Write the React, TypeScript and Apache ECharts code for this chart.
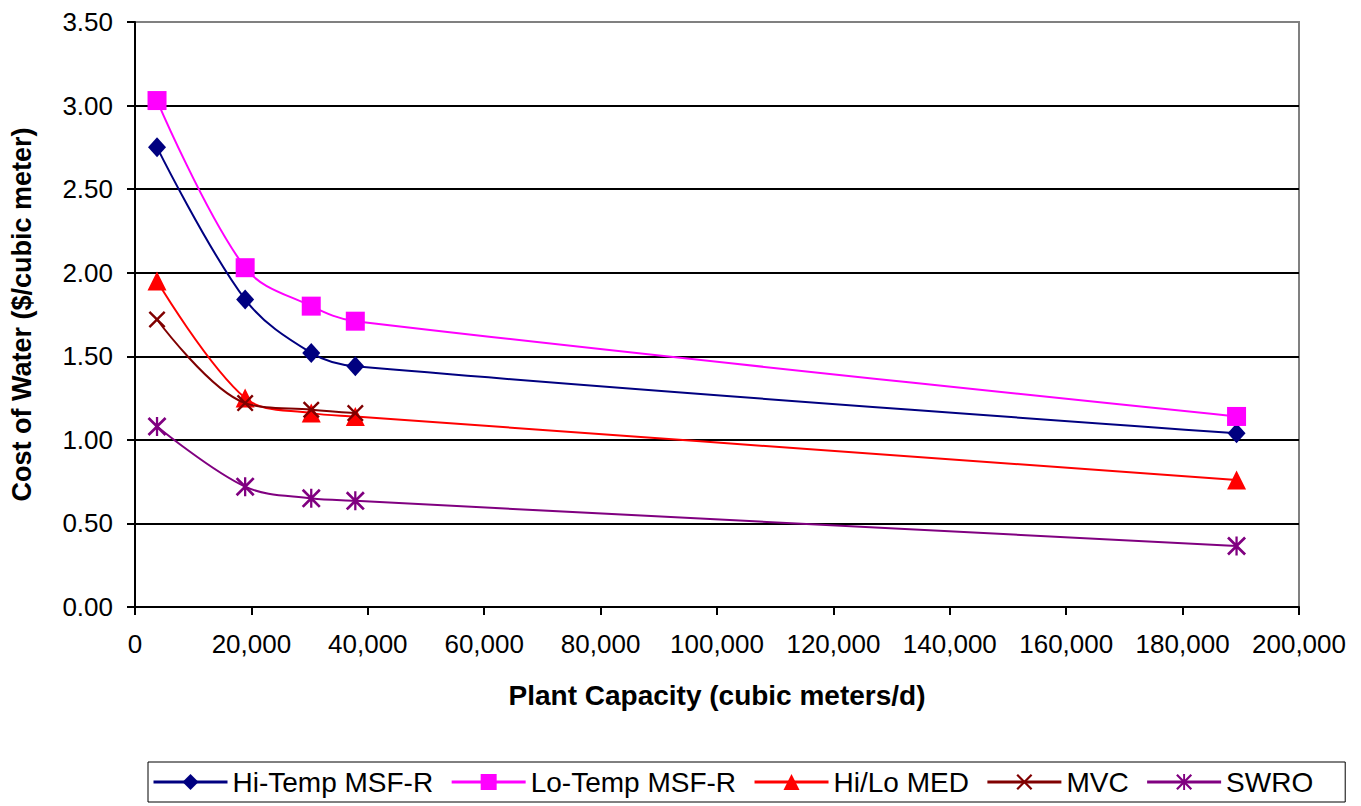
import React, { useEffect, useRef } from "react";
import * as echarts from "echarts";

const capacities = [3785, 18927, 30283, 37854, 189271];
const hiTempMSFR = [2.75, 1.84, 1.52, 1.44, 1.04];
const loTempMSFR = [3.03, 2.03, 1.8, 1.71, 1.14];
const hiLoMED = [1.95, 1.25, 1.16, 1.14, 0.76];
const mvc = [1.72, 1.22, 1.18, 1.16];
const swro = [1.08, 0.72, 0.65, 0.635, 0.365];

const seriesNames = ["Hi-Temp MSF-R", "Lo-Temp MSF-R", "Hi/Lo MED", "MVC", "SWRO"];
const seriesColors = ["#000080", "#FF00FF", "#FF0000", "#800000", "#800080"];

const X_SYMBOL =
  "path://M0,1 L1,0 L5,4 L9,0 L10,1 L6,5 L10,9 L9,10 L5,6 L1,10 L0,9 L4,5 Z";
const STAR_SYMBOL =
  "path://M0,1 L1,0 L5,4 L9,0 L10,1 L6,5 L10,9 L9,10 L5,6 L1,10 L0,9 L4,5 Z M4.4,0 L5.6,0 L5.6,10 L4.4,10 Z";

const FONT = "'Liberation Sans', Arial, sans-serif";

function pairs(ys: number[]) {
  return ys.map((y, i) => [capacities[i], y]);
}

export default function App() {
  const ref = useRef<HTMLDivElement>(null);
  useEffect(() => {
    if (!ref.current) return;
    const chart = echarts.init(ref.current, null, { renderer: "svg" });
    const seriesData = [hiTempMSFR, loTempMSFR, hiLoMED, mvc, swro];
    const symbols = ["diamond", "rect", "triangle", X_SYMBOL, STAR_SYMBOL];
    const sizes: any[] = [[18, 20], 19, 19, 17, 19];
    chart.setOption({
      animation: false,
      backgroundColor: "#ffffff",
      textStyle: { fontFamily: FONT, color: "#000" },
      grid: {
        left: 135,
        right: 62,
        top: 22,
        bottom: 199,
        show: true,
        borderColor: "#808080",
        borderWidth: 2,
        backgroundColor: "#ffffff",
      },
      xAxis: {
        type: "value",
        min: 0,
        max: 200000,
        interval: 20000,
        name: "Plant Capacity (cubic meters/d)",
        nameLocation: "middle",
        nameGap: 74,
        nameTextStyle: { fontSize: 28, fontWeight: "bold", color: "#000", fontFamily: FONT },
        axisLine: { show: true, lineStyle: { color: "#000", width: 2 } },
        axisTick: { show: true, inside: false, length: 8, lineStyle: { color: "#000", width: 2 } },
        axisLabel: {
          fontSize: 26,
          color: "#000",
          margin: 24,
          fontFamily: FONT,
          formatter: (v: number) => v.toLocaleString("en-US"),
        },
        splitLine: { show: false },
      },
      yAxis: {
        type: "value",
        min: 0,
        max: 3.5,
        interval: 0.5,
        name: "Cost of Water ($/cubic meter)",
        nameLocation: "middle",
        nameRotate: 90,
        nameGap: 100,
        nameTextStyle: { fontSize: 27, fontWeight: "bold", color: "#000", fontFamily: FONT },
        axisLine: { show: true, lineStyle: { color: "#000", width: 2 } },
        axisTick: { show: true, inside: false, length: 8, lineStyle: { color: "#000", width: 2 } },
        axisLabel: {
          fontSize: 26,
          color: "#000",
          margin: 22,
          fontFamily: FONT,
          formatter: (v: number) => v.toFixed(2),
        },
        splitLine: {
          show: true,
          lineStyle: {
            color: ["#000", "#000", "#000", "#000", "#000", "#000", "#000", "#808080"],
            width: 2,
          },
        },
      },
      legend: {
        left: 148,
        top: 762,
        orient: "horizontal",
        itemWidth: 74,
        itemHeight: 20,
        itemGap: 17,
        padding: [6, 32, 6, 4],
        borderColor: "#000",
        borderWidth: 1,
        lineStyle: { width: 3 },
        textStyle: { fontSize: 28, color: "#000", fontFamily: FONT },
        data: seriesNames,
      },
      series: seriesNames.map((name, i) => ({
        name,
        type: "line",
        data: pairs(seriesData[i]),
        smooth: 0.35,
        symbol: symbols[i],
        symbolSize: sizes[i],
        showSymbol: true,
        color: seriesColors[i],
        lineStyle: { color: seriesColors[i], width: 2 },
        itemStyle: { color: seriesColors[i] },
        z: 2 + i,
      })),
    });
    return () => chart.dispose();
  }, []);
  return (
    <div
      ref={ref}
      style={{ position: "fixed", left: 0, top: 0, width: 1361, height: 806 }}
    />
  );
}
